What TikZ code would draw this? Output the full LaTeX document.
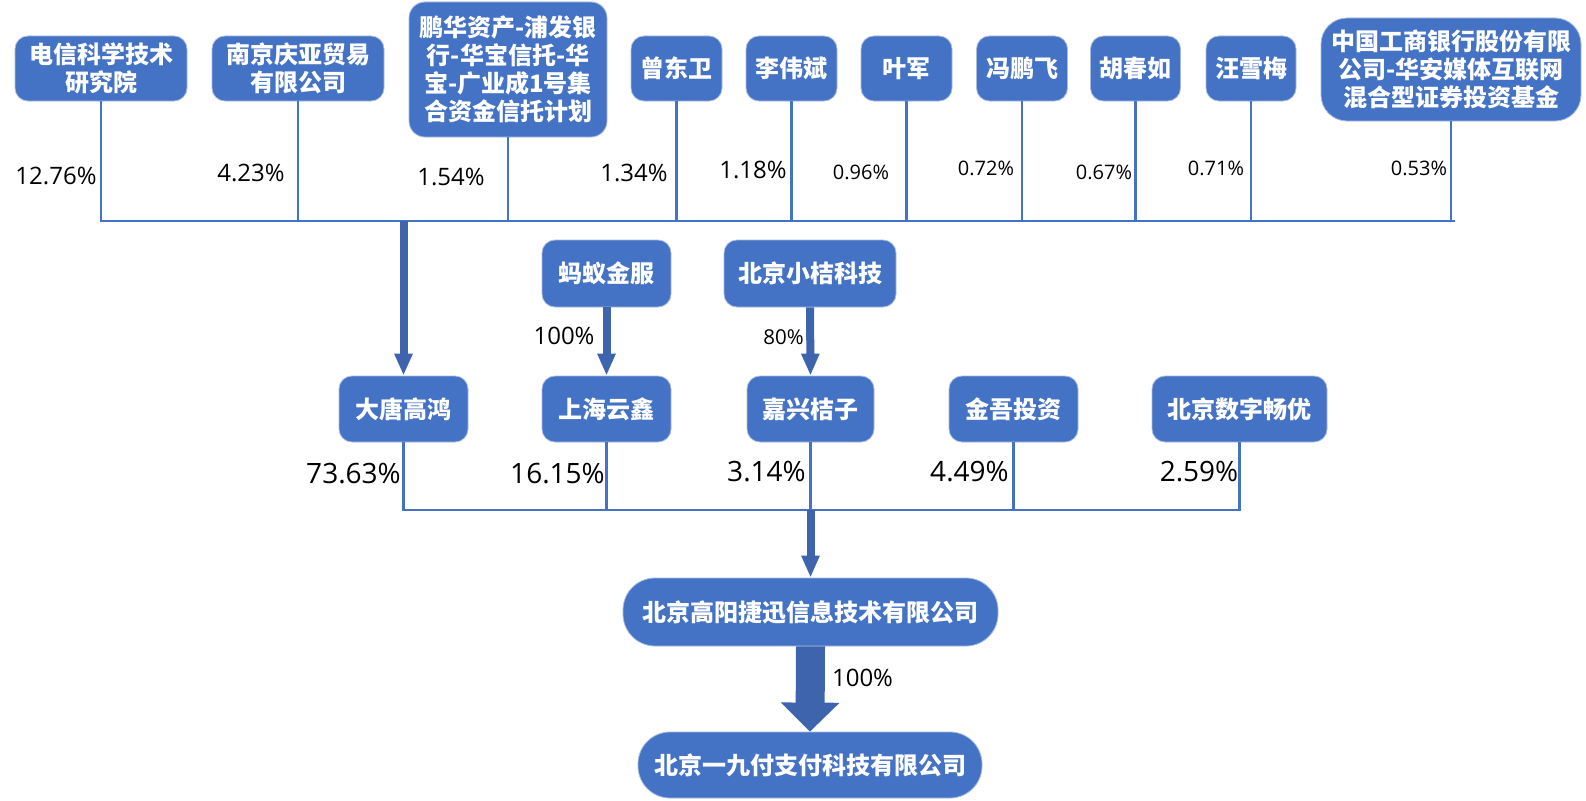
\documentclass[tikz,border=0pt]{standalone}
\usepackage{fontspec}
\newfontfamily\cjk{Noto Sans CJK SC}
\newfontfamily\pctfont{Open Sans}
\usetikzlibrary{arrows.meta}
\definecolor{blueA}{HTML}{4472C4}
\definecolor{blueB}{HTML}{3E64AD}
\definecolor{blueE}{HTML}{A8BADF}
\begin{document}
\begin{tikzpicture}[x=1pt,y=-1pt,
  box/.style={draw=blueE, line width=0.8pt, fill=blueA, rounded corners=13pt, text=white,
    font=\cjk\bfseries\fontsize{24}{28}\selectfont, align=center, inner sep=0pt},
  pill/.style={box, rounded corners=32pt},
  conn/.style={draw=blueA, line width=2.2pt},
  fatarrow/.style={draw=blueB, line width=8pt, -{Triangle[width=17pt,length=22pt]}},
  blockarrow/.style={draw=blueB, line width=29pt, -{Triangle[width=57pt,length=29pt]}},
  pct/.style={font=\pctfont\fontsize{24}{28}\selectfont, inner sep=0pt, text=black},
  pcts/.style={font=\pctfont\fontsize{20}{24}\selectfont, inner sep=0pt, text=black},
  pctl/.style={font=\pctfont\fontsize{28}{32}\selectfont, inner sep=0pt, text=black}
]
\useasboundingbox (0,0) rectangle (1586,800);

% top row
\node[box, minimum width=172, minimum height=65] (t1) at (101,68.5) {电信科学技术\\研究院};
\node[box, minimum width=172, minimum height=65] (t2) at (298,68.5) {南京庆亚贸易\\有限公司};
\node[box, minimum width=198, minimum height=135, rounded corners=16pt] (t3) at (508,69.5) {鹏华资产-浦发银\\行-华宝信托-华\\宝-广业成1号集\\合资金信托计划};
\node[box, minimum width=91, minimum height=65] (t4) at (676.5,68.5) {曾东卫};
\node[box, minimum width=91, minimum height=65] (t5) at (791.5,68.5) {李伟斌};
\node[box, minimum width=91, minimum height=65] (t6) at (906.5,68.5) {叶军};
\node[box, minimum width=91, minimum height=65] (t7) at (1022,68.5) {冯鹏飞};
\node[box, minimum width=90, minimum height=65] (t8) at (1135.5,68.5) {胡春如};
\node[box, minimum width=90, minimum height=65] (t9) at (1251,68.5) {汪雪梅};
\node[box, minimum width=260, minimum height=103, rounded corners=26pt] (t10) at (1451,69.5) {中国工商银行股份有限\\公司-华安媒体互联网\\混合型证券投资基金};

% top percentages
\node[pct] (p1) at (56,176) {12.76\%};
\node[pct] (p2) at (251,173) {4.23\%};
\node[pct] (p3) at (451,177) {1.54\%};
\node[pct] (p4) at (634,173) {1.34\%};
\node[pct] (p5) at (753,170) {1.18\%};
\node[pcts] (p6) at (861,172) {0.96\%};
\node[pcts] (p7) at (986,168) {0.72\%};
\node[pcts] (p8) at (1104,172) {0.67\%};
\node[pcts] (p9) at (1216,168) {0.71\%};
\node[pcts] (p10) at (1419,168) {0.53\%};

% top bus
\coordinate (busT) at (0,221);
\foreach \n in {t1,t2,t3,t4,t5,t6,t7,t8,t9,t10}
  \draw[conn] (\n.south) -- (\n.south |- busT);
\draw[conn] ([xshift=-1.1pt]t1.south |- busT) -- ([xshift=4pt]t10.south |- busT);

% middle row
\node[box, minimum width=129, minimum height=67] (a1) at (606.5,273.5) {蚂蚁金服};
\node[box, minimum width=172, minimum height=67] (a2) at (810,273.5) {北京小桔科技};
\node[box, minimum width=129, minimum height=66] (m1) at (403.5,409) {大唐高鸿};
\node[box, minimum width=129, minimum height=66] (m2) at (606.5,409) {上海云鑫};
\node[box, minimum width=127, minimum height=66] (m3) at (810.5,409) {嘉兴桔子};
\node[box, minimum width=129, minimum height=66] (m4) at (1013.5,409) {金吾投资};
\node[box, minimum width=175, minimum height=66] (m5) at (1239.5,409) {北京数字畅优};

\draw[fatarrow] (m1.north |- busT) -- (m1.north);
\draw[fatarrow] (a1.south) -- (m2.north);
\draw[fatarrow] (a2.south) -- (m3.north);
\node[pct] (r1) at (564,336) {100\%};
\node[pcts, font=\pctfont\fontsize{20.5}{24}\selectfont] (r2) at (783.5,337) {80\%};

% middle percentages
\node[pctl] (q1) at (353.5,474) {73.63\%};
\node[pctl] (q2) at (557.5,474) {16.15\%};
\node[pctl] (q3) at (766.5,472) {3.14\%};
\node[pctl] (q4) at (969.5,472) {4.49\%};
\node[pctl] (q5) at (1199,472) {2.59\%};

% middle bus
\coordinate (busM) at (0,510);
\foreach \n in {m1,m2,m3,m4,m5}
  \draw[conn] (\n.south) -- (\n.south |- busM);
\draw[conn] ([xshift=-1.1pt]m1.south |- busM) -- ([xshift=1.1pt]m5.south |- busM);

% bottom
\node[pill, minimum width=375, minimum height=68] (g) at (810.5,612) {北京高阳捷迅信息技术有限公司};
\node[pill, minimum width=344, minimum height=66] (y) at (810,765) {北京一九付支付科技有限公司};
\draw[fatarrow] (g.north |- busM) -- (g.north);
\draw[blockarrow] (g.south) -- (y.north);
\node[pct] (r3) at (862.5,678) {100\%};
\end{tikzpicture}
\end{document}
